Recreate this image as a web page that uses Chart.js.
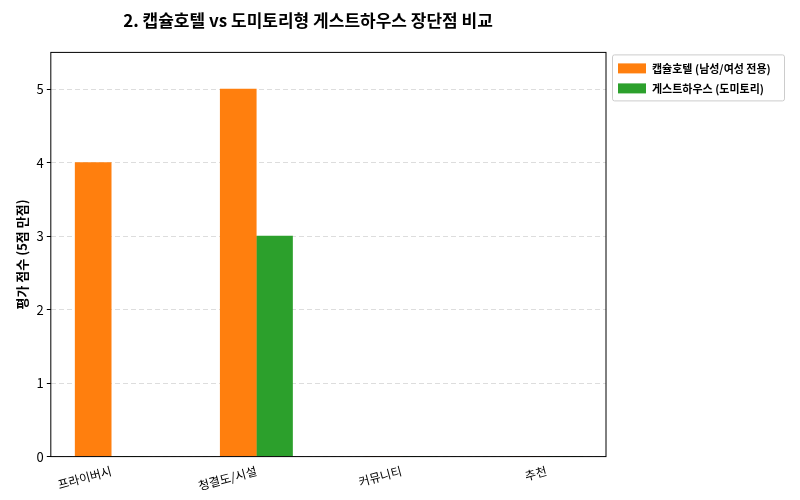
<!DOCTYPE html>
<html><head><meta charset="utf-8">
<script src="https://cdn.jsdelivr.net/npm/chart.js@4"></script>
<style>body{margin:0;background:#fff}#w{width:800px;height:500px}</style>
</head><body><div id="w"><canvas id="c"></canvas></div>
<script>
const categories=["프라이버시","청결도/시설","커뮤니티","추천"];
const capsule=[4,5,0,0];
const guest=[0,3,0,0];
const seriesNames=["캡슐호텔 (남성/여성 전용)","게스트하우스 (도미토리)"];
const colors=['#ff7f0e','#2ca02c'];
const yTicks=[0,1,2,3,4,5];
const F="'Noto Sans CJK KR','Noto Sans',sans-serif";
Chart.defaults.font.family=F;Chart.defaults.color='#000';
const frame={id:'frame',afterDraw(ch){const c=ch.ctx,a=ch.chartArea;c.save();c.strokeStyle='#000';c.lineWidth=1;c.strokeRect(a.left,a.top,a.right-a.left,a.bottom-a.top);
const lx=a.right+6,ly=a.top+2;c.strokeStyle='#ccc';c.fillStyle='#fff';c.beginPath();c.roundRect(lx+0.5,ly+0.5,172,46,2);c.fill();c.stroke();
c.font="bold 11px "+F;c.textBaseline='middle';
seriesNames.forEach((n,i)=>{const y=ly+14+i*20;c.fillStyle=colors[i];c.fillRect(lx+6,y-5,28,10);c.fillStyle='#000';c.fillText(n,lx+40,y);});
c.restore();}};
new Chart(document.getElementById('c'),{type:'bar',
data:{datasets:[
{label:seriesNames[0],data:capsule.map((v,i)=>({x:i-0.125,y:v})),backgroundColor:colors[0],barThickness:36},
{label:seriesNames[1],data:guest.map((v,i)=>({x:i+0.125,y:v})),backgroundColor:colors[1],barThickness:36}]},
options:{responsive:true,maintainAspectRatio:false,animation:false,grouped:false,
layout:{padding:{left:10,right:194,top:6,bottom:4}},
plugins:{title:{display:true,text:'2. 캡슐호텔 vs 도미토리형 게스트하우스 장단점 비교',font:{size:17,weight:'bold'},padding:{top:4,bottom:22}},
legend:{display:false},tooltip:{enabled:false}},
scales:{x:{type:'linear',offset:false,min:-0.417,max:3.41,
afterBuildTicks(s){s.ticks=[0,1,2,3].map(v=>({value:v}));},
ticks:{callback:v=>categories[v],maxRotation:15,minRotation:15,font:{size:12}},grid:{display:false,tickLength:4},border:{display:false}},
y:{min:0,max:5.5,afterBuildTicks(s){s.ticks=yTicks.map(v=>({value:v}));},ticks:{font:{size:13}},
title:{display:true,text:'평가 점수 (5점 만점)',font:{size:13,weight:'bold'}},
grid:{color:'#ddd',drawTicks:true,tickColor:'#000',tickLength:4},border:{display:false,dash:[5,3]}}}},
plugins:[frame]});
</script></body></html>
